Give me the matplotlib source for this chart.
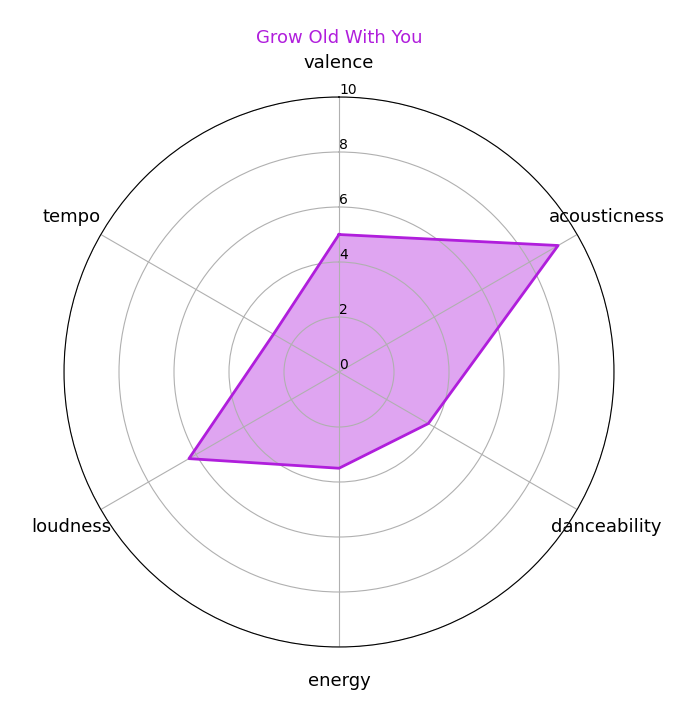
import numpy as np
import matplotlib
matplotlib.use("Agg")
import matplotlib.pyplot as plt

categories = ["valence", "acousticness", "danceability", "energy", "loudness", "tempo"]
values = [5.0, 9.2, 3.75, 3.5, 6.3, 2.75]
title = "Grow Old With You"
color = "#b01edc"

n = len(categories)
angles = np.linspace(0, 2 * np.pi, n, endpoint=False).tolist()
vals = values + values[:1]
angs = angles + angles[:1]

fig = plt.figure(figsize=(6.95, 7.21), dpi=100)
ax = fig.add_axes([64 / 695, 1 - 647 / 721, 550 / 695, 550 / 721], polar=True)
ax.set_theta_offset(np.pi / 2)
ax.set_theta_direction(-1)
ax.plot(angs, vals, color=color, linewidth=2)
ax.fill(angs, vals, color=color, alpha=0.4)
ax.set_ylim(0, 10)
ax.set_yticks([0, 2, 4, 6, 8, 10])
ax.set_yticklabels(["0", "2", "4", "6", "8", "10"], fontsize=10)
ax.set_rlabel_position(0)
ax.set_xticks(angles)
ax.set_xticklabels(categories, fontsize=13)
ax.tick_params(axis="x", pad=14)
ax.grid(color="#b0b0b0", linewidth=0.8)
ax.set_title(title, color=color, fontsize=13, pad=39)

fig.savefig("out.png", dpi=100)
